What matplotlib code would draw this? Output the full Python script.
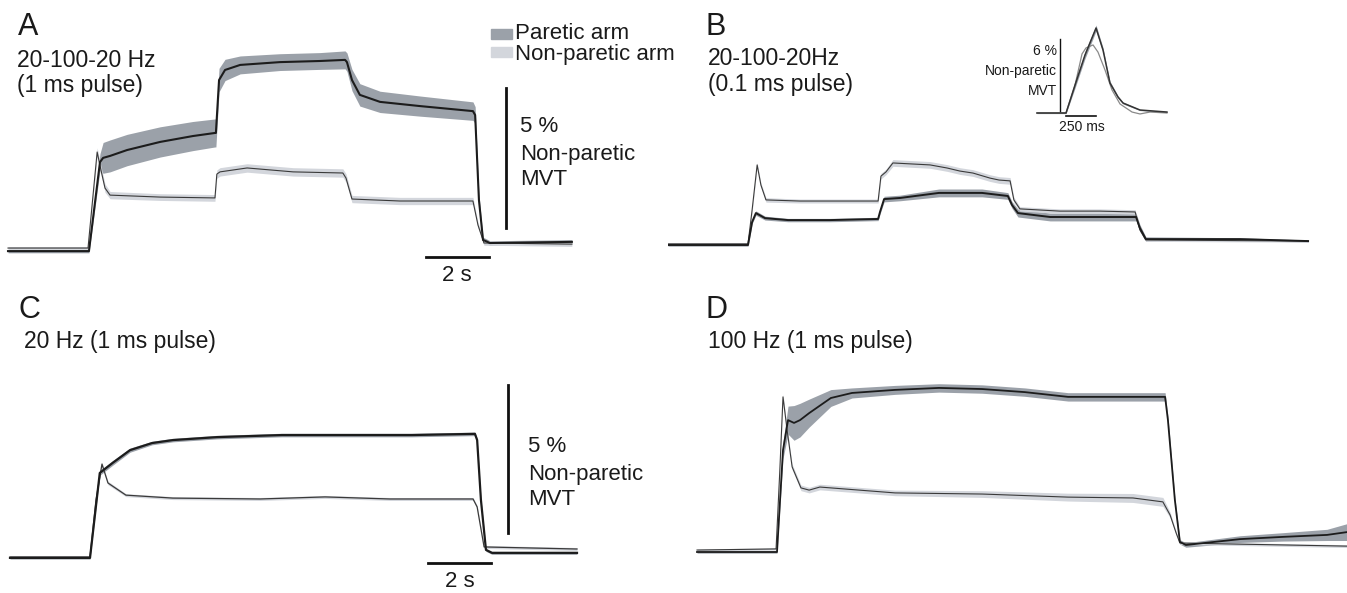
import numpy as np
import matplotlib.pyplot as plt
from matplotlib.patches import Rectangle

plt.rcParams['font.family'] = ['Liberation Sans', 'DejaVu Sans']

W, H = 1347, 593

# ---- data (time in s, force in % non-paretic MVT) ----
# A: 20-100-20 Hz, 1 ms pulse
a_par_t = [0, 2.57, 2.92, 3.02, 3.24, 3.78, 4.83, 5.87, 6.57, 6.60, 6.70, 6.89, 7.37, 8.63, 9.90,
           10.70, 10.76, 10.92, 11.17, 11.81, 13.08, 14.76, 14.83, 14.95, 15.08, 15.30, 17.90]
a_par = [-0.04, -0.04, 3.14, 3.29, 3.36, 3.57, 3.86, 4.07, 4.18, 4.18, 6.07, 6.43, 6.61, 6.71, 6.75,
         6.79, 6.71, 6.07, 5.54, 5.29, 5.14, 4.96, 4.82, 1.79, 0.36, 0.25, 0.29]
a_par_sd = [0.06, 0.06, 0.3, 0.55, 0.57, 0.56, 0.54, 0.52, 0.5, 0.5, 0.42, 0.38, 0.32, 0.3, 0.3,
            0.32, 0.33, 0.38, 0.4, 0.38, 0.36, 0.33, 0.3, 0.2, 0.1, 0.08, 0.08]
a_np_t = [0, 2.54, 2.83, 2.95, 3.08, 3.24, 4.83, 6.57, 6.63, 6.73, 7.59, 9.05, 10.63, 10.73,
          10.92, 12.44, 14.76, 14.92, 15.11, 17.90]
a_np = [0.07, 0.07, 3.5, 2.86, 2.21, 1.96, 1.89, 1.86, 2.71, 2.79, 2.93, 2.79, 2.75, 2.57,
        1.82, 1.75, 1.75, 0.89, 0.25, 0.21]
a_np_sd = [0.05, 0.05, 0.15, 0.15, 0.15, 0.13, 0.12, 0.12, 0.15, 0.15, 0.15, 0.15, 0.15, 0.15,
           0.13, 0.13, 0.13, 0.1, 0.08, 0.08]

# B: 20-100-20 Hz, 0.1 ms pulse
b_par_t = [0, 2.54, 2.67, 2.79, 3.08, 3.81, 5.14, 6.67, 6.73, 6.86, 7.37, 8.6, 9.97, 10.79, 10.92,
           11.11, 12.13, 14.86, 14.98, 15.17, 18.16, 20.32]
b_par = [0, 0, 0.82, 1.14, 0.96, 0.89, 0.89, 0.93, 1.18, 1.64, 1.68, 1.86, 1.86, 1.75, 1.43,
         1.14, 1.0, 1.0, 0.61, 0.21, 0.21, 0.14]
b_par_sd = [0.04, 0.04, 0.06, 0.08, 0.07, 0.06, 0.06, 0.06, 0.08, 0.1, 0.1, 0.14, 0.14, 0.12, 0.12,
            0.14, 0.14, 0.14, 0.12, 0.08, 0.05, 0.04]
b_np_t = [0, 2.54, 2.67, 2.83, 2.95, 3.11, 4.19, 6.67, 6.76, 6.92, 7.14, 8.32, 8.86, 9.27, 9.68,
          10.22, 10.51, 10.86, 10.98, 11.17, 12.44, 13.71, 14.83, 14.98, 15.17, 20.32]
b_np = [0.04, 0.04, 1.25, 2.86, 2.14, 1.61, 1.57, 1.57, 2.46, 2.61, 2.93, 2.86, 2.75, 2.64, 2.57,
        2.39, 2.32, 2.29, 1.61, 1.29, 1.21, 1.21, 1.18, 0.54, 0.18, 0.14]
b_np_sd = [0.04, 0.04, 0.08, 0.08, 0.08, 0.08, 0.07, 0.07, 0.1, 0.1, 0.12, 0.12, 0.12, 0.12, 0.12,
           0.12, 0.12, 0.12, 0.1, 0.08, 0.08, 0.08, 0.08, 0.06, 0.05, 0.04]

# B inset: single twitch (time in ms)
tw_t_par = [0, 242, 317, 400, 492, 550, 608, 675, 717, 858, 1083]
tw_par = [0, 0, 2.33, 4.83, 7.08, 5.25, 2.5, 1.33, 0.83, 0.25, 0.08]
tw_par_sd = [0.05, 0.05, 0.25, 0.3, 0.25, 0.2, 0.15, 0.1, 0.08, 0.05, 0.05]
tw_t_np = [0, 242, 317, 375, 408, 467, 508, 567, 625, 692, 792, 858, 942, 1083]
tw_np = [0, 0, 2.33, 4.92, 5.42, 5.67, 5.08, 3.58, 1.92, 0.75, 0.08, -0.08, 0.08, 0]

# C: 20 Hz, 1 ms pulse
c_par_t = [0, 2.54, 2.85, 3.26, 3.81, 4.51, 5.17, 6.57, 8.63, 10.70, 12.76, 14.76, 14.83, 14.95,
           15.11, 15.30, 18.0]
c_par = [-0.03, -0.03, 2.84, 3.18, 3.61, 3.85, 3.95, 4.05, 4.12, 4.12, 4.12, 4.16, 3.95, 1.93,
         0.24, 0.14, 0.14]
c_par_sd = [0.04, 0.04, 0.08, 0.08, 0.07, 0.06, 0.06, 0.06, 0.06, 0.06, 0.06, 0.06, 0.06, 0.06,
            0.05, 0.05, 0.05]
c_np_t = [0, 2.54, 2.73, 2.92, 3.11, 3.68, 5.17, 7.94, 10.0, 12.06, 14.70, 14.83, 15.05, 18.0]
c_np = [0, 0, 1.93, 3.14, 2.5, 2.09, 1.99, 1.96, 2.03, 1.96, 1.96, 1.69, 0.34, 0.27]
c_np_sd = [0.04, 0.04, 0.06, 0.06, 0.06, 0.05, 0.05, 0.05, 0.05, 0.05, 0.05, 0.05, 0.05, 0.05]

# D: 100 Hz, 1 ms pulse
d_par_t = [0, 2.54, 2.73, 2.89, 3.08, 3.27, 3.56, 4.25, 4.92, 6.29, 7.68, 9.05, 10.41, 11.78,
           13.14, 14.86, 14.95, 15.17, 15.33, 15.52, 17.24, 18.6, 20.0, 20.63]
d_par = [0, 0, 3.64, 4.71, 4.61, 4.71, 4.96, 5.5, 5.68, 5.79, 5.86, 5.82, 5.71, 5.54,
         5.54, 5.54, 4.71, 1.86, 0.36, 0.25, 0.46, 0.54, 0.61, 0.71]
d_par_sd = [0.04, 0.04, 0.3, 0.5, 0.62, 0.6, 0.5, 0.3, 0.18, 0.16, 0.15, 0.15, 0.15, 0.15,
            0.15, 0.15, 0.15, 0.1, 0.08, 0.08, 0.12, 0.15, 0.2, 0.3]
d_np_t = [0, 2.51, 2.63, 2.73, 2.86, 3.02, 3.3, 3.56, 3.9, 6.29, 9.05, 11.78, 13.84, 14.79,
          15.02, 15.21, 15.33, 20.63]
d_np = [0.07, 0.11, 2.93, 5.54, 4.36, 3.04, 2.29, 2.21, 2.32, 2.11, 2.07, 1.96, 1.93, 1.79,
        1.32, 0.68, 0.32, 0.21]
d_np_sd = [0.04, 0.04, 0.1, 0.1, 0.1, 0.1, 0.1, 0.1, 0.1, 0.1, 0.12, 0.14, 0.16, 0.16,
           0.1, 0.06, 0.05, 0.05]

PAR_BAND = '#9ba1a9'
NP_BAND = '#d3d6dc'
PAR_LINE = '#1c1c1c'
NP_LINE = '#3a3a3a'

fig = plt.figure(figsize=(W / 100, H / 100), dpi=100)


def place_axes(left, top, w, h, t0, base, px_t, px_v):
    """axes over a pixel box; t=0 at pixel column t0, v=0 at pixel row base"""
    ax = fig.add_axes([left / W, 1 - (top + h) / H, w / W, h / H])
    ax.set_xlim((left - t0) / px_t, (left + w - t0) / px_t)
    ax.set_ylim((base - (top + h)) / px_v, (base - top) / px_v)
    ax.axis('off')
    return ax


def traces(ax, pt, p, psd, nt, n, nsd, par_lw=1.3, np_lw=0.8):
    p, psd, n, nsd = map(np.array, (p, psd, n, nsd))
    ax.fill_between(pt, p - psd, p + psd, color=PAR_BAND, lw=0)
    ax.fill_between(nt, n - nsd, n + nsd, color=NP_BAND, lw=0)
    ax.plot(nt, n, color=NP_LINE, lw=np_lw)
    ax.plot(pt, p, color=PAR_LINE, lw=par_lw)


def ftext(x, y, s, size=16, **kw):
    fig.text(x / W, 1 - y / H, s, fontsize=size, va='baseline', color='#1a1a1a', **kw)


# A
axA = place_axes(0, 0, 675, 296, 8, 250, 31.5, 28)
traces(axA, a_par_t, a_par, a_par_sd, a_np_t, a_np, a_np_sd, par_lw=1.5)
axA.plot([15.81, 15.81], [0.79, 5.79], color='#111111', lw=2)
axA.plot([13.27, 15.27], [-0.25, -0.25], color='#111111', lw=2)

# B
axB = place_axes(668, 0, 679, 296, 668, 245, 31.5, 28)
traces(axB, b_par_t, b_par, b_par_sd, b_np_t, b_np, b_np_sd, par_lw=1.4)

# B inset
axI = place_axes(1030, 20, 145, 105, 1037, 113, 0.12, 12)
tp, tpsd = np.array(tw_par), np.array(tw_par_sd)
axI.fill_between(tw_t_par, tp - tpsd, tp + tpsd, color=PAR_BAND, lw=0)
axI.plot(tw_t_np, tw_np, color='#8a8a8a', lw=0.9)
axI.plot(tw_t_par, tw_par, color='#333333', lw=1.1)
axI.plot([192, 192], [0.17, 6.17], color='#111111', lw=1)
axI.plot([242, 492], [-0.25, -0.25], color='#111111', lw=1.2)

# C
axC = place_axes(0, 296, 675, 297, 10, 557, 31.5, 29.6)
traces(axC, c_par_t, c_par, c_par_sd, c_np_t, c_np, c_np_sd, par_lw=1.6, np_lw=0.9)
axC.plot([15.81, 15.81], [0.81, 5.81], color='#111111', lw=2)
axC.plot([13.27, 15.27], [-0.2, -0.2], color='#111111', lw=2)

# D
axD = place_axes(680, 296, 667, 297, 697, 552, 31.5, 28)
traces(axD, d_par_t, d_par, d_par_sd, d_np_t, d_np, d_np_sd, par_lw=1.3)

# panel labels and titles
ftext(18, 35, 'A', size=22)
ftext(17, 67, '20-100-20 Hz', size=16.5)
ftext(17, 92, '(1 ms pulse)', size=16.5)
ftext(705, 35, 'B', size=22)
ftext(708, 65, '20-100-20Hz', size=16.5)
ftext(708, 91, '(0.1 ms pulse)', size=16.5)
ftext(18, 318, 'C', size=22)
ftext(24, 348, '20 Hz (1 ms pulse)', size=16.5)
ftext(705, 318, 'D', size=22)
ftext(708, 348, '100 Hz (1 ms pulse)', size=16.5)

# legend
fig.patches.append(Rectangle((491 / W, 1 - 39 / H), 21 / W, 10 / H, color=PAR_BAND,
                             transform=fig.transFigure))
fig.patches.append(Rectangle((491 / W, 1 - 57 / H), 21 / W, 10 / H, color=NP_BAND,
                             transform=fig.transFigure))
ftext(515, 39, 'Paretic arm')
ftext(515, 60, 'Non-paretic arm')

# scale bar labels
for x0, ys in [(520, (132, 160, 185)), (528, (452, 480, 505))]:
    ftext(x0, ys[0], '5 %')
    ftext(x0, ys[1], 'Non-paretic')
    ftext(x0, ys[2], 'MVT')
ftext(457, 281, '2 s', ha='center')
ftext(460, 587, '2 s', ha='center')

ftext(1057, 55, '6 %', size=10, ha='right')
ftext(1057, 75, 'Non-paretic', size=10, ha='right')
ftext(1057, 95, 'MVT', size=10, ha='right')
ftext(1082, 131, '250 ms', size=10, ha='center')

plt.savefig('out.png', dpi=100)
plt.close()
